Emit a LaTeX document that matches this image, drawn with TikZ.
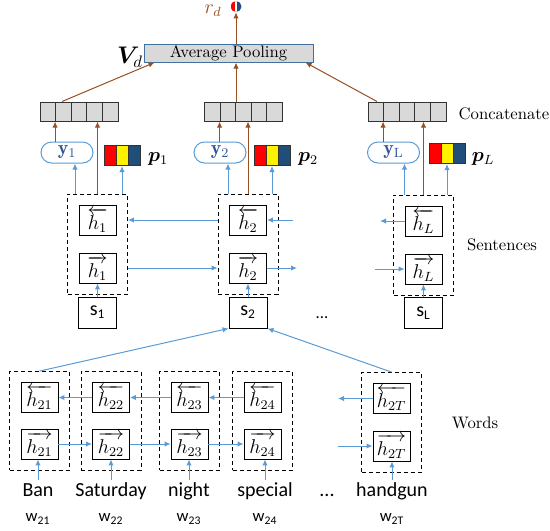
\documentclass[tikz,border=0pt]{standalone}
\usepackage{amsmath,bm}
\usepackage{fontspec}
\setsansfont{Carlito}
\usetikzlibrary{arrows.meta,positioning,fit,calc}
\definecolor{arrblue}{RGB}{91,155,213}
\definecolor{arrbrown}{RGB}{150,80,35}
\definecolor{cellgray}{RGB}{217,217,217}
\definecolor{darkblue}{RGB}{31,78,121}
\definecolor{poolblue}{RGB}{65,113,156}
\definecolor{ytext}{RGB}{47,85,151}
\newcommand\ppbb{path picture bounding box}

\begin{document}
\begin{tikzpicture}[x=0.6pt, y=-0.6pt,
    hbox/.style={draw, line width=0.55pt, minimum width=22.2pt, minimum height=18pt, inner sep=0pt, font=\large},
    sbox/.style={draw, line width=0.55pt, minimum width=22.8pt, minimum height=18.6pt, inner sep=0pt, font=\sffamily\large},
    group/.style={draw, dash pattern=on 2.4pt off 1.8pt, line width=0.55pt, inner xsep=6.6pt, inner ysep=6.3pt},
    concat/.style={draw=black!80, line width=0.6pt, fill=cellgray, minimum width=46.8pt, minimum height=11.4pt, inner sep=0pt,
        path picture={\foreach \k in {1,...,4}
            \draw[black!80, line width=0.6pt] ($(\ppbb.south west)!\k/5!(\ppbb.south east)$) -- ($(\ppbb.north west)!\k/5!(\ppbb.north east)$);}},
    pvec/.style={draw=black!80, line width=0.6pt, minimum width=21.6pt, minimum height=12pt, inner sep=0pt,
        path picture={
            \fill[red] (\ppbb.south west) rectangle ($(\ppbb.north west)!1/3!(\ppbb.north east)$);
            \fill[yellow] ($(\ppbb.south west)!1/3!(\ppbb.south east)$) rectangle ($(\ppbb.north west)!2/3!(\ppbb.north east)$);
            \fill[darkblue] ($(\ppbb.south west)!2/3!(\ppbb.south east)$) rectangle (\ppbb.north east);
            \draw[black!80, line width=0.6pt] ($(\ppbb.south west)!1/3!(\ppbb.south east)$) -- ($(\ppbb.north west)!1/3!(\ppbb.north east)$)
                ($(\ppbb.south west)!2/3!(\ppbb.south east)$) -- ($(\ppbb.north west)!2/3!(\ppbb.north east)$);}},
    yrep/.style={draw=arrblue, line width=0.6pt, rounded corners=6.3pt, minimum width=31.2pt, minimum height=12.6pt, inner sep=0pt, text=ytext, font=\large},
    pool/.style={draw=poolblue, fill=cellgray, line width=0.6pt, minimum width=101.4pt, minimum height=10.8pt, inner sep=0pt},
    rdot/.style={circle, minimum size=6.6pt, inner sep=0pt,
        path picture={
            \fill[red] (\ppbb.south west) rectangle (\ppbb.north);
            \fill[darkblue] (\ppbb.south) rectangle (\ppbb.north east);
            \draw[white, line width=0.7pt] (\ppbb.south) -- (\ppbb.north);}},
    word/.style={font=\sffamily\large, text height=8.5pt, text depth=2.5pt, inner sep=1pt},
    wlab/.style={font=\sffamily},
    barrow/.style={-{Latex[length=3.6pt,width=3.2pt]}, arrblue, line width=0.6pt},
    brarrow/.style={-{Latex[length=3.6pt,width=3.2pt]}, arrbrown, line width=0.6pt}]

    \useasboundingbox (0,0) rectangle (550,530);

    % document level
    \node[pool] (pool) at (228.5,53) {Average Pooling};
    \node[font=\Large] (vd) at (130,57) {$\bm{V}_d$};
    \node[rdot] (rdot) at (236,6.5) {};
    \node[text=arrbrown, font=\large] (rd) at (213,11) {$r_d$};

    \node[concat] (cat1) at (79,111.5) {};
    \node[concat] (cat2) at (243.5,111.5) {};
    \node[concat] (cat3) at (407,111.5) {};
    \node (lcat) at (504,114) {Concatenate};

    \node[yrep] (y1) at (67,152.5) {$\mathbf{y}_1$};
    \node[yrep] (y2) at (220,152.5) {$\mathbf{y}_2$};
    \node[yrep] (yL) at (393.5,152.5) {$\mathbf{y}_\mathrm{L}$};
    \node[pvec] (p1) at (122,155.5) {};
    \node[pvec] (p2) at (272,155.5) {};
    \node[pvec] (pL) at (447,153.5) {};
    \node[font=\large] (lp1) at (158,159) {$\bm{p}_1$};
    \node[font=\large] (lp2) at (308,159) {$\bm{p}_2$};
    \node[font=\large] (lpL) at (483,159) {$\bm{p}_L$};

    % sentence level
    \node[hbox] (hb1) at (97.5,220) {$\overleftarrow{h_1}$};
    \node[hbox] (hf1) at (97.5,268) {$\overrightarrow{h_1}$};
    \node[sbox] (s1) at (97.5,312.5) {s\textsubscript{1}};
    \node[group, fit=(hb1)(hf1)] (box1) {};
    \node[hbox] (hb2) at (248,220) {$\overleftarrow{h_2}$};
    \node[hbox] (hf2) at (248,268) {$\overrightarrow{h_2}$};
    \node[sbox] (s2) at (248,312.5) {s\textsubscript{2}};
    \node[group, fit=(hb2)(hf2)] (box2) {};
    \node[hbox] (hbL) at (423.5,221) {$\overleftarrow{h_L}$};
    \node[hbox] (hfL) at (423.5,269) {$\overrightarrow{h_L}$};
    \node[sbox] (sL) at (423.5,313) {s\textsubscript{L}};
    \node[group, fit=(hbL)(hfL)] (boxL) {};
    \node (lsent) at (502,245) {Sentences};
    \node[font=\sffamily] (sdots) at (322,318) {...};
    \coordinate (in2) at (293,220);
    \coordinate (out2) at (297,268);
    \coordinate (outL) at (380,221);
    \coordinate (inL) at (375,269);

    % word level
    \node[hbox] (hb21) at (39.5,397.5) {$\overleftarrow{h_{21}}$};
    \node[hbox] (hf21) at (39.5,444) {$\overrightarrow{h_{21}}$};
    \node[group, fit=(hb21)(hf21)] (wb21) {};
    \node[hbox] (hb22) at (111,397.5) {$\overleftarrow{h_{22}}$};
    \node[hbox] (hf22) at (111,444) {$\overrightarrow{h_{22}}$};
    \node[group, fit=(hb22)(hf22)] (wb22) {};
    \node[hbox] (hb23) at (189.5,397.5) {$\overleftarrow{h_{23}}$};
    \node[hbox] (hf23) at (189.5,444) {$\overrightarrow{h_{23}}$};
    \node[group, fit=(hb23)(hf23)] (wb23) {};
    \node[hbox] (hb24) at (262.5,397.5) {$\overleftarrow{h_{24}}$};
    \node[hbox] (hf24) at (262.5,444) {$\overrightarrow{h_{24}}$};
    \node[group, fit=(hb24)(hf24)] (wb24) {};
    \node[hbox] (hb2T) at (391.5,398.5) {$\overleftarrow{h_{2T}}$};
    \node[hbox] (hf2T) at (391.5,446) {$\overrightarrow{h_{2T}}$};
    \node[group, fit=(hb2T)(hf2T)] (wb2T) {};
    \node (lwords) at (475,423) {Words};
    \coordinate (out2T) at (338,398.5);
    \coordinate (in2T) at (338,446);

    \node[word] (ban) at (38,491) {Ban};
    \node[word] (saturday) at (111,491) {Saturday};
    \node[word] (night) at (189,491) {night};
    \node[word] (special) at (265,491) {special};
    \node[word] (wdots) at (327,491) {...};
    \node[word] (handgun) at (392,491) {handgun};
    \node[wlab] (w21) at (38,519) {w\textsubscript{21}};
    \node[wlab] (w22) at (111,519) {w\textsubscript{22}};
    \node[wlab] (w23) at (189,519) {w\textsubscript{23}};
    \node[wlab] (w24) at (265,519) {w\textsubscript{24}};
    \node[wlab] (w2T) at (392,519) {w\textsubscript{2T}};

    % word connectors
    \draw[barrow] (ban.north) -- (ban.north |- hf21.south);
    \draw[barrow] (saturday.north) -- (saturday.north |- hf22.south);
    \draw[barrow] (night.north) -- (night.north |- hf23.south);
    \draw[barrow] (special.north) -- (special.north |- hf24.south);
    \draw[barrow] (handgun.north) -- (handgun.north |- hf2T.south);
    \draw[barrow] (hf21) -- (hf22);
    \draw[barrow] (hf22) -- (hf23);
    \draw[barrow] (hf23) -- (hf24);
    \draw[barrow] (in2T) -- (hf2T);
    \draw[barrow] (hb22) -- (hb21);
    \draw[barrow] (hb23) -- (hb22);
    \draw[barrow] (hb24) -- (hb23);
    \draw[barrow] (hb2T) -- (out2T);
    \draw[barrow] (wb21.north) -- (s2.south west);
    \draw[barrow] (wb2T.north) -- (s2.south east);

    % sentence connectors
    \draw[barrow] (s1) -- (hf1);
    \draw[barrow] (s2) -- (hf2);
    \draw[barrow] (sL) -- (hfL);
    \draw[barrow] (box1.east |- hf1) -- (box2.west |- hf2);
    \draw[barrow] (box2.west |- hb2) -- (box1.east |- hb1);
    \draw[barrow] (in2) -- (hb2);
    \draw[barrow] (hf2) -- (out2);
    \draw[barrow] (hbL) -- (outL);
    \draw[barrow] (inL) -- (hfL);

    % up to the document
    \coordinate (u1) at ($(y1.south)+(8,0)$);
    \coordinate (u2) at ($(y2.south)+(8,0)$);
    \coordinate (uL) at ($(yL.south)+(11,0)$);
    \draw[barrow] (u1 |- box1.north) -- (u1);
    \draw[barrow] (u2 |- box2.north) -- (u2);
    \draw[barrow] (uL |- boxL.north) -- (uL);
    \draw[barrow] (p1.south |- box1.north) -- (p1.south);
    \draw[barrow] (p2.south |- box2.north) -- (p2.south);
    \draw[barrow] (pL.south |- boxL.north) -- (pL.south);

    \coordinate (d1) at ([xshift=9.36pt]cat1.south west);
    \coordinate (d2) at ([xshift=9.36pt]cat2.south west);
    \coordinate (dL) at ([xshift=9.36pt]cat3.south west);
    \draw[brarrow] (d1 |- y1.north) -- (d1);
    \draw[brarrow] (d2 |- y2.north) -- (d2);
    \draw[brarrow] (dL |- yL.north) -- (dL);
    \draw[brarrow] (box1.north) -- (box1.north |- cat1.south);
    \draw[brarrow] (box2.north) -- (box2.north |- cat2.south);
    \draw[brarrow] (boxL.north) -- (boxL.north |- cat3.south);

    \draw[brarrow] ([xshift=-10.2pt]cat1.north) -- ([xshift=6.6pt]pool.south west);
    \draw[brarrow] (cat2.north -| rdot) -- (pool.south -| rdot);
    \draw[brarrow] ([xshift=-18pt]cat3.north) -- ([xshift=-4.8pt]pool.south east);
    \draw[brarrow] (pool.north -| rdot) -- (rdot.south);
\end{tikzpicture}
\end{document}
